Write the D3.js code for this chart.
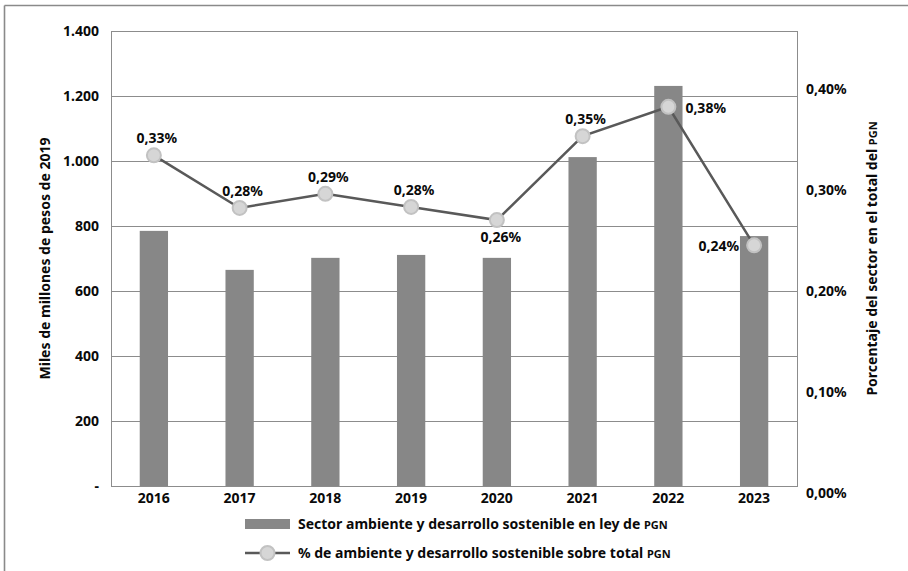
<!DOCTYPE html>
<html>
<head>
<meta charset="utf-8">
<script src="https://cdn.jsdelivr.net/npm/d3@7"></script>
<style>
  html, body { margin: 0; padding: 0; background: #fff; }
  svg { display: block; font-family: "Noto Sans", "Open Sans", sans-serif; font-weight: 700; }
</style>
</head>
<body>
<svg id="chart" width="908" height="571"></svg>
<script>
// Budget of the environment & sustainable development sector (PGN law)
const years = ["2016", "2017", "2018", "2019", "2020", "2021", "2022", "2023"];
const budget = [785, 665, 702, 711, 702, 1012, 1231, 769];          // miles de millones, pesos de 2019
const share = [0.327, 0.275, 0.289, 0.276, 0.263, 0.346, 0.375, 0.238]; // % of total PGN
const shareLabels = ["0,33%", "0,28%", "0,29%", "0,28%", "0,26%", "0,35%", "0,38%", "0,24%"];
const labelPos = ["top", "top", "top", "top", "bottom", "top", "right", "left"];
const leftTicks = [0, 200, 400, 600, 800, 1000, 1200, 1400];
const rightTicks = [0, 0.1, 0.2, 0.3, 0.4];

const svg = d3.select("#chart");
const plot = { left: 111, right: 797, top: 31, bottom: 486 };

const x = d3.scaleBand().domain(years).range([plot.left, plot.right])
  .paddingInner(0.67).paddingOuter(0.335);
const yL = d3.scaleLinear().domain([0, 1400]).range([plot.bottom, plot.top]);
const yR = d3.scaleLinear().domain([0, 0.45]).range([plot.bottom, plot.top]);
const cx = d => x(d) + x.bandwidth() / 2;

const grid = "#8c8c8c";
const fontSize = 14;
const ink = "#0a0a0a";

// outer frame (left and top edges)
svg.append("line").attr("x1", 4.5).attr("x2", 4.5).attr("y1", 5.5).attr("y2", 571)
  .attr("stroke", "#8a8a8a").attr("stroke-width", 1.6);
svg.append("line").attr("x1", 4.5).attr("x2", 908).attr("y1", 5.5).attr("y2", 5.5)
  .attr("stroke", "#8a8a8a").attr("stroke-width", 1.6);

// horizontal gridlines
svg.append("g").selectAll("line").data(leftTicks.slice(1)).join("line")
  .attr("x1", plot.left).attr("x2", plot.right)
  .attr("y1", d => Math.round(yL(d)) + 0.5).attr("y2", d => Math.round(yL(d)) + 0.5)
  .attr("stroke", grid).attr("stroke-width", 1);

// plot frame: left, right and bottom lines
svg.append("line").attr("x1", plot.left + 0.5).attr("x2", plot.left + 0.5)
  .attr("y1", plot.top).attr("y2", plot.bottom).attr("stroke", grid);
svg.append("line").attr("x1", plot.right + 0.5).attr("x2", plot.right + 0.5)
  .attr("y1", plot.top).attr("y2", plot.bottom).attr("stroke", grid);
svg.append("line").attr("x1", plot.left).attr("x2", plot.right + 1)
  .attr("y1", plot.bottom + 0.5).attr("y2", plot.bottom + 0.5).attr("stroke", grid);

// bars
svg.append("g").selectAll("rect").data(years).join("rect")
  .attr("x", d => x(d))
  .attr("y", (d, i) => yL(budget[i]))
  .attr("width", x.bandwidth())
  .attr("height", (d, i) => yL(0) - yL(budget[i]))
  .attr("fill", "#878787");

// left axis labels
const fmtL = d => d === 0 ? "-" : d3.format(",")(d).replace(/,/g, ".");
svg.append("g").selectAll("text").data(leftTicks).join("text")
  .attr("x", 99).attr("y", d => yL(d) + 5)
  .attr("text-anchor", "end").attr("font-size", fontSize).attr("fill", ink)
  .text(fmtL);

// right axis labels
const fmtR = d => d3.format(".2f")(d).replace(".", ",") + "%";
svg.append("g").selectAll("text").data(rightTicks).join("text")
  .attr("x", 806).attr("y", d => yR(d) + 12)
  .attr("text-anchor", "start").attr("font-size", fontSize).attr("fill", ink)
  .text(fmtR);

// category labels
svg.append("g").selectAll("text").data(years).join("text")
  .attr("x", d => cx(d)).attr("y", 503)
  .attr("text-anchor", "middle").attr("font-size", fontSize).attr("fill", ink)
  .text(d => d);

// axis titles
const midY = (plot.top + plot.bottom) / 2;
svg.append("text")
  .attr("transform", `translate(50,${midY}) rotate(-90)`)
  .attr("text-anchor", "middle").attr("font-size", fontSize).attr("fill", ink)
  .text("Miles de millones de pesos de 2019");
const rt = svg.append("text")
  .attr("transform", `translate(877,${midY}) rotate(-90)`)
  .attr("text-anchor", "middle").attr("font-size", fontSize).attr("fill", ink);
rt.append("tspan").text("Porcentaje del sector en el total del ");
rt.append("tspan").attr("font-size", 11).text("PGN");

// share line
const line = d3.line().x((d, i) => cx(years[i])).y(d => yR(d));
svg.append("path").datum(share)
  .attr("d", line).attr("fill", "none")
  .attr("stroke", "#595959").attr("stroke-width", 2.5);

svg.append("g").selectAll("circle").data(share).join("circle")
  .attr("cx", (d, i) => cx(years[i])).attr("cy", d => yR(d)).attr("r", 7)
  .attr("fill", "#d6d6d6").attr("stroke", "#c2c2c2").attr("stroke-width", 2);

// value labels
svg.append("g").selectAll("text").data(share).join("text")
  .attr("font-size", fontSize).attr("fill", ink)
  .each(function (d, i) {
    const px = cx(years[i]), py = yR(d), sel = d3.select(this);
    const pos = labelPos[i];
    if (pos === "top") sel.attr("x", px + 3).attr("y", py - 12).attr("text-anchor", "middle");
    else if (pos === "bottom") sel.attr("x", px + 4).attr("y", py + 22).attr("text-anchor", "middle");
    else if (pos === "right") sel.attr("x", px + 17).attr("y", py + 6).attr("text-anchor", "start");
    else sel.attr("x", px - 15).attr("y", py + 6).attr("text-anchor", "end");
  })
  .text((d, i) => shareLabels[i]);

// legend
const lg = svg.append("g");
lg.append("rect").attr("x", 245).attr("y", 519).attr("width", 45).attr("height", 10).attr("fill", "#878787");
const t1 = lg.append("text").attr("x", 298).attr("y", 529).attr("font-size", fontSize).attr("fill", ink);
t1.append("tspan").text("Sector ambiente y desarrollo sostenible en ley de ");
t1.append("tspan").attr("font-size", 11).text("PGN");

lg.append("line").attr("x1", 245).attr("x2", 290).attr("y1", 553).attr("y2", 553)
  .attr("stroke", "#595959").attr("stroke-width", 2.5);
lg.append("circle").attr("cx", 267.5).attr("cy", 553).attr("r", 7)
  .attr("fill", "#d6d6d6").attr("stroke", "#c2c2c2").attr("stroke-width", 2);
const t2 = lg.append("text").attr("x", 298).attr("y", 558).attr("font-size", fontSize).attr("fill", ink);
t2.append("tspan").text("% de ambiente y desarrollo sostenible sobre total ");
t2.append("tspan").attr("font-size", 11).text("PGN");
</script>
</body>
</html>
